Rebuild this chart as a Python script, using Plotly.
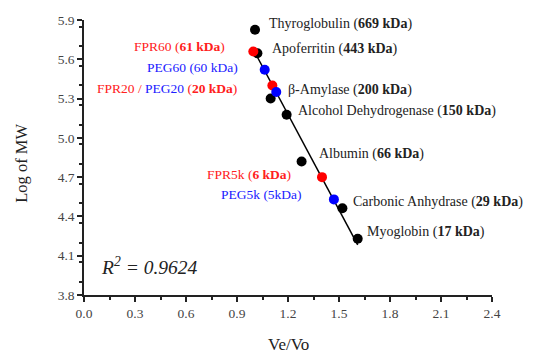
import numpy as np
import plotly.graph_objects as go

# Protein standards (black)
std_names = ["Thyroglobulin", "Apoferritin", "β-Amylase", "Alcohol Dehydrogenase",
             "Albumin", "Carbonic Anhydrase", "Myoglobin"]
std_kda = ["669 kDa", "443 kDa", "200 kDa", "150 kDa", "66 kDa", "29 kDa", "17 kDa"]
std_x = [1.006, 1.02, 1.098, 1.192, 1.28, 1.52, 1.61]
std_y = [5.825, 5.646, 5.301, 5.176, 4.82, 4.462, 4.23]

# FPR samples (red)
fpr_x = [0.996, 1.108, 1.40]
fpr_y = [5.66, 5.40, 4.70]

# PEG samples (blue)
peg_x = [1.063, 1.131, 1.47]
peg_y = [5.52, 5.35, 4.53]

r2_text = "R<sup>2</sup> = 0.9624"

# linear fit of the standards
slope, intercept = np.polyfit(std_x, std_y, 1)
fit_x = np.array([min(fpr_x), max(std_x)])
fit_y = slope * fit_x + intercept

FONT = "Times New Roman, Liberation Serif, serif"
fig = go.Figure()
fig.add_trace(go.Scatter(x=fit_x, y=fit_y, mode="lines",
                         line=dict(color="black", width=1.5), hoverinfo="skip"))
fig.add_trace(go.Scatter(x=std_x, y=std_y, mode="markers",
                         marker=dict(color="black", size=10)))
fig.add_trace(go.Scatter(x=fpr_x, y=fpr_y, mode="markers",
                         marker=dict(color="#ff0000", size=10)))
fig.add_trace(go.Scatter(x=peg_x, y=peg_y, mode="markers",
                         marker=dict(color="#0000ff", size=10)))

# standard labels (position in data units)
std_lab_pos = [(1.076, 5.87), (1.092, 5.68), (1.186, 5.366), (1.245, 5.205),
               (1.371, 4.877), (1.569, 4.513), (1.653, 4.282)]
for n, k, (lx, ly) in zip(std_names, std_kda, std_lab_pos):
    fig.add_annotation(x=lx, y=ly, xanchor="left", yanchor="middle", showarrow=False,
                       text=f"{n} (<b>{k}</b>)",
                       font=dict(family=FONT, size=14, color="#222"))

red = "#ff2020"
blue = "#2020ff"
side_labels = [
    (0.841, 5.70, f"<span style='color:{red}'>FPR60 (<b>61 kDa</b>)</span>"),
    (0.918, 5.54, f"<span style='color:{blue}'>PEG60 (60 kDa)</span>"),
    (0.912, 5.38, f"<span style='color:{red}'>FPR20 / </span><span style='color:{blue}'>PEG20</span><span style='color:{red}'> (<b>20 kDa</b>)</span>"),
    (1.229, 4.724, f"<span style='color:{red}'>FPR5k (<b>6 kDa</b>)</span>"),
    (1.294, 4.564, f"<span style='color:{blue}'>PEG5k (5kDa)</span>"),
]
for lx, ly, t in side_labels:
    fig.add_annotation(x=lx, y=ly, xanchor="right", yanchor="middle", showarrow=False,
                       text=t, font=dict(family=FONT, size=13.5))

fig.add_annotation(x=0.088, y=4.02, xanchor="left", yanchor="middle", showarrow=False,
                   text=f"<i>{r2_text}</i>", font=dict(family=FONT, size=19.5, color="#222"))

# axis titles
fig.add_annotation(xref="paper", yref="paper", x=0.5, y=-0.18, yanchor="middle",
                   showarrow=False, text="Ve/Vo", font=dict(family=FONT, size=17, color="#222"))
fig.add_annotation(xref="paper", yref="paper", x=-0.155, y=0.48, xanchor="center",
                   yanchor="middle", textangle=-90, showarrow=False, text="Log of MW",
                   font=dict(family=FONT, size=16.5, color="#222"))

fig.update_layout(
    width=541, height=353, margin=dict(l=84, r=49, t=20, b=58),
    plot_bgcolor="white", paper_bgcolor="white", showlegend=False,
    font=dict(family=FONT, color="#333"),
)
fig.update_xaxes(range=[0, 2.4], tick0=0, dtick=0.3, tickformat=".1f",
                 showgrid=False, zeroline=False, showline=True, linecolor="#222", linewidth=1.5,
                 ticks="outside", ticklen=5, tickcolor="#222", tickwidth=1.5,
                 minor=dict(ticks="outside", ticklen=3, dtick=0.15, tickcolor="#222", showgrid=False),
                 tickfont=dict(family=FONT, size=13.5, color="#444"))
fig.update_yaxes(range=[3.8, 5.9], tick0=3.8, dtick=0.3, tickformat=".1f",
                 showgrid=False, zeroline=False, showline=True, linecolor="#222", linewidth=1.5,
                 ticks="outside", ticklen=5, tickcolor="#222", tickwidth=1.5,
                 minor=dict(ticks="outside", ticklen=3, dtick=0.15, tickcolor="#222", showgrid=False),
                 tickfont=dict(family=FONT, size=13.5, color="#444"))

fig.write_html("out.html", config={"displayModeBar": False},
               post_script="document.body.style.margin='0';")
